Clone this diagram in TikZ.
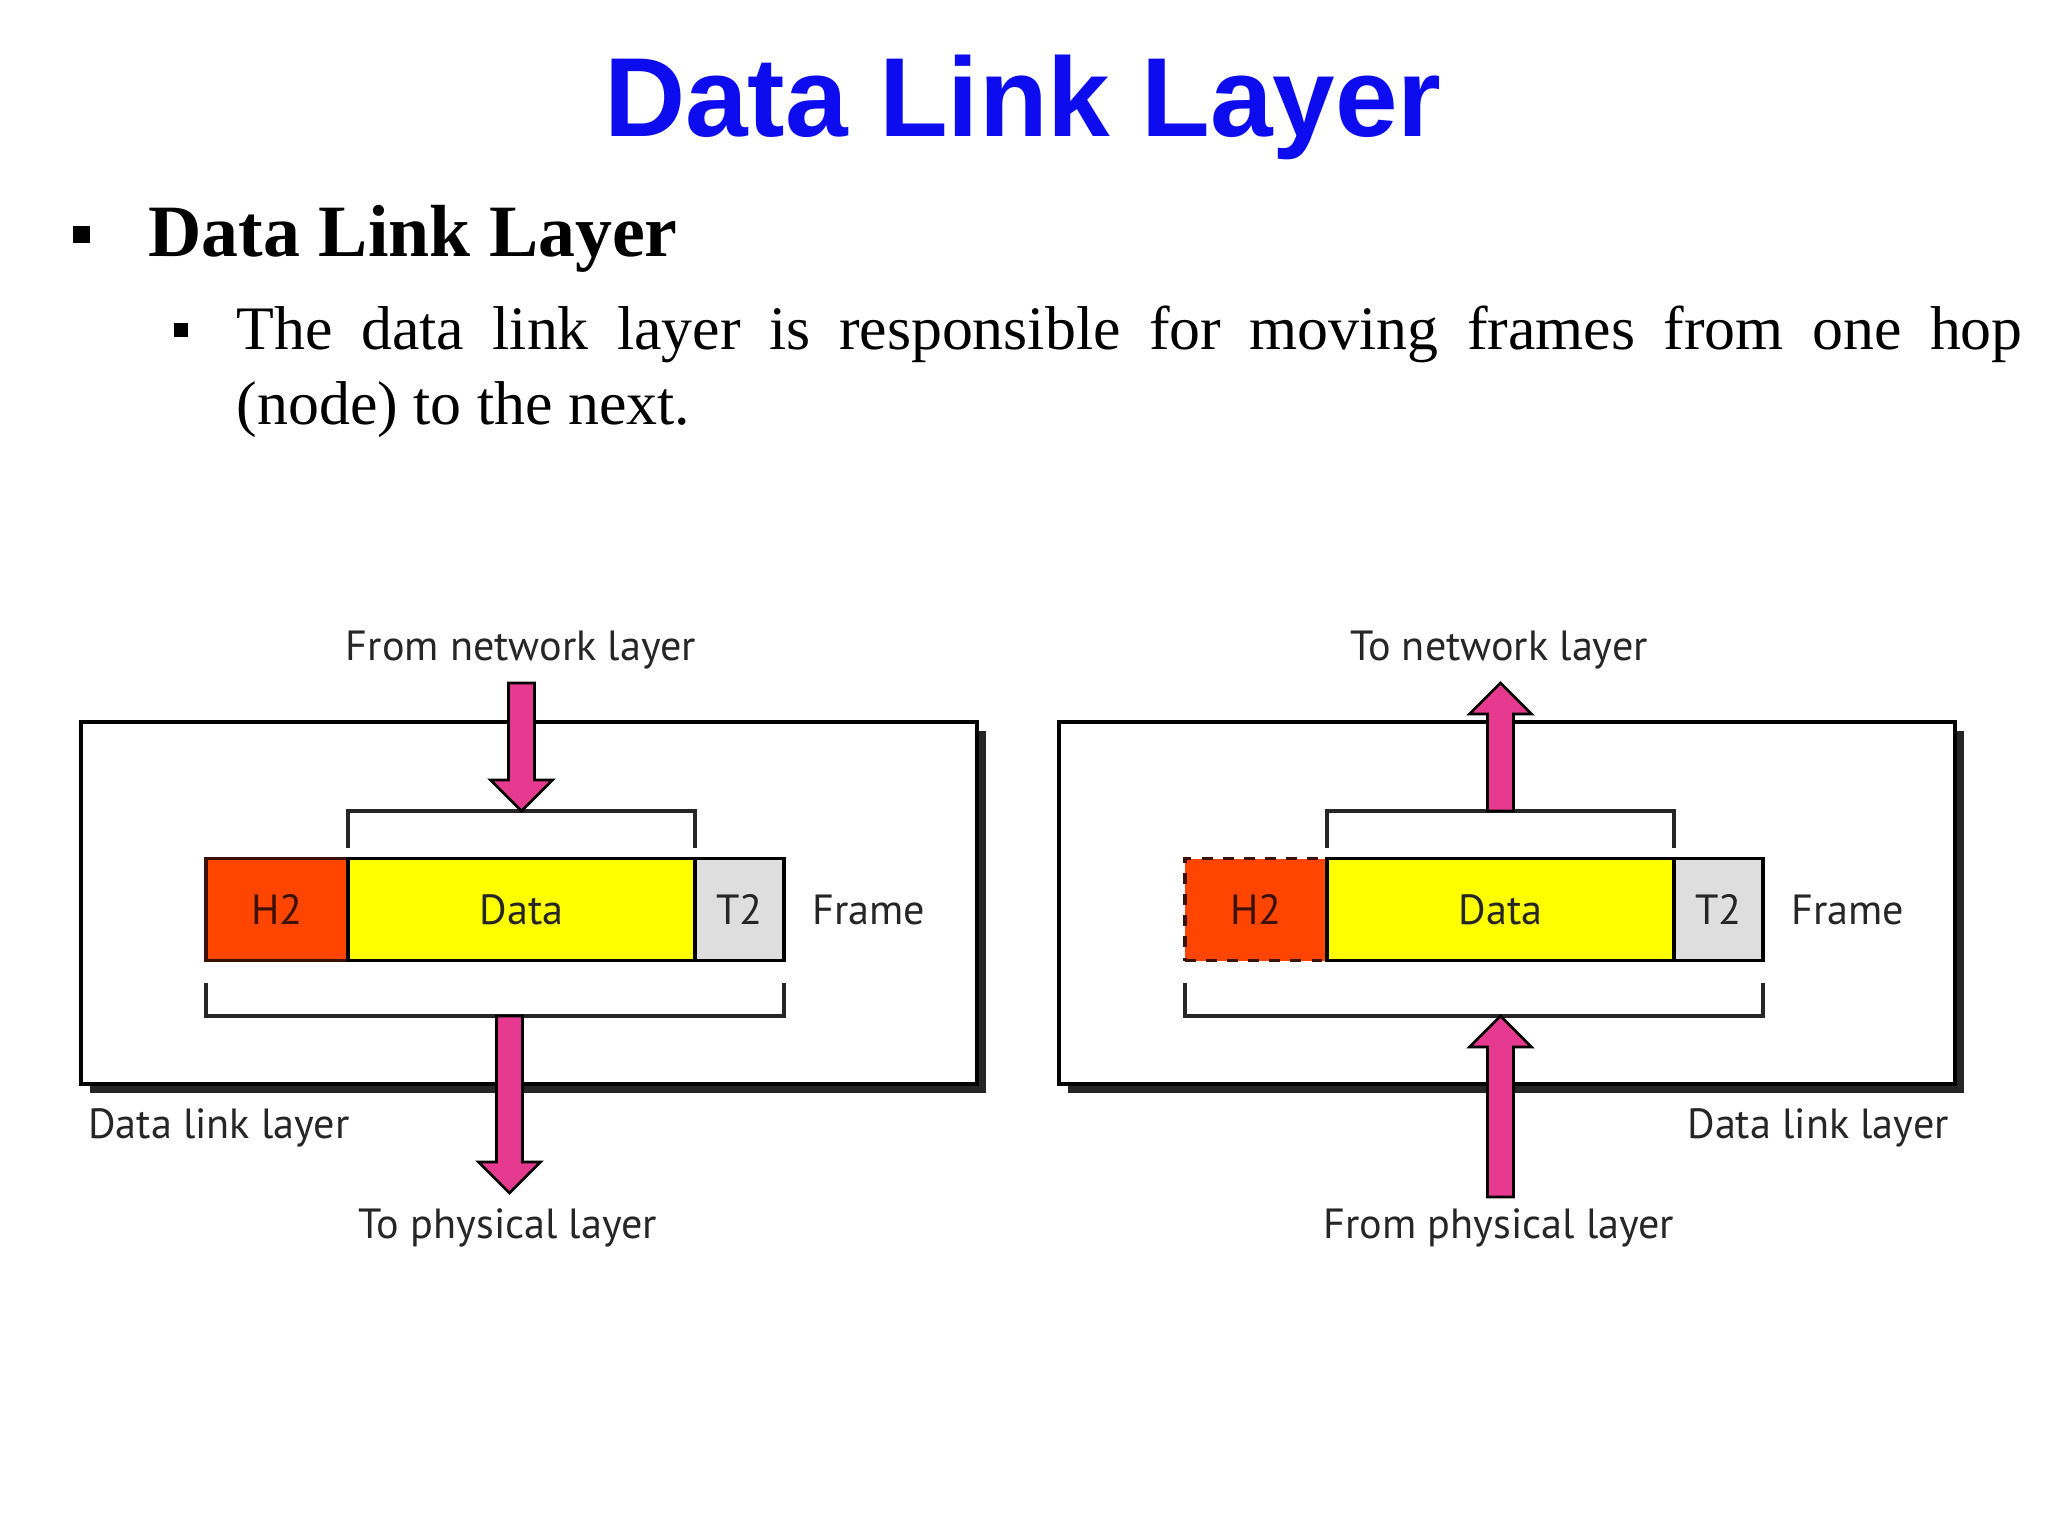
\documentclass[tikz,border=0pt]{standalone}
\usepackage{fontspec}
\setmainfont{Liberation Serif}
\newfontfamily\titlefont{Liberation Sans}
\newfontfamily\diagfont{PT Sans}
\usetikzlibrary{positioning,calc,shadows}
\definecolor{titleblue}{RGB}{12,12,238}
\definecolor{hdrred}{RGB}{255,69,0}
\definecolor{hdredge}{RGB}{60,18,8}
\definecolor{datayellow}{RGB}{255,255,0}
\definecolor{trlgray}{RGB}{222,222,222}
\definecolor{arrowpink}{RGB}{230,58,145}
\tikzset{
  lbl/.style={font=\diagfont\fontsize{12}{14.5}\selectfont, text=black!85, inner sep=1pt},
  cell/.style={lbl, draw=black, line width=0.9pt, outer sep=0pt, minimum height=1.02cm, inner sep=0pt},
  hdrcell/.style={cell, fill=hdrred, draw=hdredge, text=hdredge, minimum width=1.42cm},
  datacell/.style={cell, fill=datayellow, minimum width=3.47cm},
  trlcell/.style={cell, fill=trlgray, minimum width=0.89cm},
  dlbox/.style={draw=black, line width=1pt, fill=white, minimum width=8.96cm, minimum height=3.62cm,
    drop shadow={shadow xshift=0.09cm, shadow yshift=-0.09cm, fill=black!85, opacity=1}},
  brk/.style={draw=black!85, line width=0.9pt},
  bulletsq/.style={fill=black, inner sep=0pt, minimum size=#1},
  fatarrow/.style={draw=black, line width=0.8pt, fill=arrowpink, line join=miter,
    to path={($(\tikztostart)!0.13cm!90:(\tikztotarget)$)
      -- ($(\tikztotarget)!0.31cm!(\tikztostart)!0.13cm!90:(\tikztotarget)$)
      -- ($(\tikztotarget)!0.31cm!(\tikztostart)!0.31cm!90:(\tikztotarget)$)
      -- (\tikztotarget)
      -- ($(\tikztotarget)!0.31cm!(\tikztostart)!0.31cm!-90:(\tikztotarget)$)
      -- ($(\tikztotarget)!0.31cm!(\tikztostart)!0.13cm!-90:(\tikztotarget)$)
      -- ($(\tikztostart)!0.13cm!-90:(\tikztotarget)$) -- cycle}}
}
\begin{document}
\begin{tikzpicture}
\fill[white] (0,0) rectangle (20.48,-15.36);
\useasboundingbox (0,0) rectangle (20.48,-15.36);

% slide text
\node[anchor=base, font=\titlefont\bfseries\fontsize{32}{38}\selectfont, text=titleblue, inner sep=0pt] (title) at (10.23,-1.37) {Data Link Layer};
\node[bulletsq=0.17cm] (b1) at (0.81,-2.35) {};
\node[anchor=base west, font=\bfseries\fontsize{21}{25}\selectfont, inner sep=0pt] (head) at (1.48,-2.57) {Data Link Layer};
\node[bulletsq=0.14cm] (b2) at (1.81,-3.30) {};
\node[anchor=base west, text width=17.86cm, align=justify, inner sep=0pt, font=\fontsize{17.6}{21.3}\selectfont] (body) at (2.36,-3.50)
  {The data link layer is responsible for moving frames from one hop\linebreak (node) to the next.};

% sending side
\node[dlbox] (lbox) at (5.29,-9.03) {};
\node[hdrcell] (lh2) at (2.77,-9.095) {H2};
\node[datacell, right=0pt of lh2] (ldata) {Data};
\node[trlcell, right=0pt of ldata] (lt2) {T2};
\node[lbl, right=0.24cm of lt2] (lframe) {Frame};
\draw[brk] ($(ldata.north west)+(0,0.11)$) |- ($(ldata.north)+(0,0.475)$) coordinate (ltop) -| ($(ldata.north east)+(0,0.11)$);
\draw[brk] ($(lh2.south west)+(0,-0.22)$) |- ($(lt2.south east)+(0,-0.555)$) -- ($(lt2.south east)+(0,-0.22)$);
\coordinate (lbot) at ($(ldata.south)+(-0.12,-0.555)$);
\coordinate (lin) at ($(ltop)+(0,1.28)$);
\coordinate (lout) at ($(lbot)+(0,-1.77)$);
\draw[fatarrow] (lin) to (ltop);
\draw[fatarrow] (lbot) to (lout);
\node[lbl] (lfrom) at (5.21,-6.50) {From network layer};
\node[lbl] (lto) at (5.08,-12.28) {To physical layer};
\node[lbl, anchor=west] (lname) at (0.84,-11.28) {Data link layer};

% receiving side
\node[dlbox] (rbox) at (15.07,-9.03) {};
\node[hdrcell, dashed] (rh2) at (12.56,-9.095) {H2};
\node[datacell, right=0pt of rh2] (rdata) {Data};
\node[trlcell, right=0pt of rdata] (rt2) {T2};
\node[lbl, right=0.24cm of rt2] (rframe) {Frame};
\draw[brk] ($(rdata.north west)+(0,0.11)$) |- ($(rdata.north)+(0,0.475)$) coordinate (rtop) -| ($(rdata.north east)+(0,0.11)$);
\draw[brk] ($(rh2.south west)+(0,-0.22)$) |- ($(rt2.south east)+(0,-0.555)$) -- ($(rt2.south east)+(0,-0.22)$);
\coordinate (rbot) at ($(rdata.south)+(0,-0.555)$);
\coordinate (rout) at ($(rtop)+(0,1.28)$);
\coordinate (rin) at ($(rbot)+(0,-1.81)$);
\draw[fatarrow] (rtop) to (rout);
\draw[fatarrow] (rin) to (rbot);
\node[lbl] (rto) at (14.99,-6.50) {To network layer};
\node[lbl] (rfrom) at (14.99,-12.28) {From physical layer};
\node[lbl, anchor=east] (rname) at (19.53,-11.28) {Data link layer};
\end{tikzpicture}
\end{document}
